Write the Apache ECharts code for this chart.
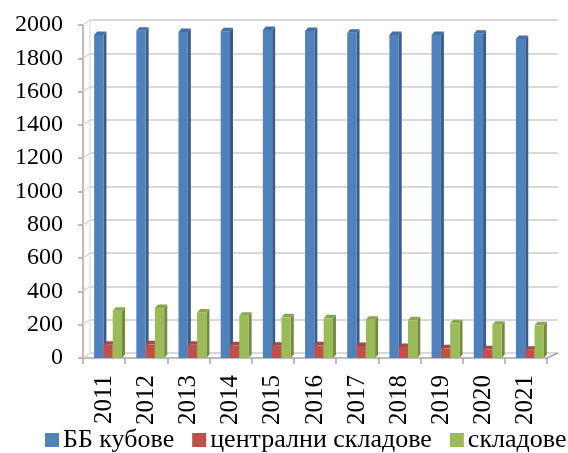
<!DOCTYPE html>
<html>
<head>
<meta charset="utf-8">
<script src="https://cdn.jsdelivr.net/npm/echarts@6/dist/echarts.min.js"></script>
<style>
  html, body { margin: 0; padding: 0; background: #fff; }
  #chart { width: 568px; height: 453px; }
</style>
</head>
<body>
<div id="chart"></div>
<script>
// Years on the category axis
const years = ['2011', '2012', '2013', '2014', '2015', '2016', '2017', '2018', '2019', '2020', '2021'];

// Series values per year
const bbCubes = [1940, 1966, 1958, 1962, 1970, 1964, 1954, 1940, 1940, 1948, 1916];
const centralStores = [80, 82, 79, 76, 74, 76, 72, 66, 58, 52, 50];
const stores = [284, 300, 274, 254, 244, 238, 230, 226, 208, 200, 196];

// Value axis ticks
const valueTicks = [0, 200, 400, 600, 800, 1000, 1200, 1400, 1600, 1800, 2000];

const seriesNames = ['ББ кубове', 'централни складове', 'складове'];
const seriesValues = [bbCubes, centralStores, stores];
const faceColors = [
  { front: '#4F81BD', side: '#385D8A', top: '#426FA6' },
  { front: '#C0504D', side: '#8C3A38', top: '#A94744' },
  { front: '#9BBB59', side: '#718A3F', top: '#89A84E' }
];

const FONT = 'Liberation Serif, Times New Roman, serif';
const BAR_W = 9.3;   // width of one bar front face
const DX = 3;        // depth offset to the right
const DY = 3.5;      // depth offset upward
const SHIFT = 4;     // group offset inside a category (perspective)

// Prism-like bar: front face, right side face and top face
function barRenderer(k) {
  return function (params, api) {
    const i = api.value(0);
    const v = api.value(1);
    const topPt = api.coord([i, v]);
    const basePt = api.coord([i, 0]);
    const left = topPt[0] + SHIFT - 1.5 * BAR_W + k * BAR_W;
    const right = left + BAR_W;
    const top = topPt[1];
    const base = basePt[1];
    const c = faceColors[k];
    return {
      type: 'group',
      children: [
        {
          type: 'polygon',
          shape: { points: [[right, top], [right + DX, top - DY], [right + DX, base - DY], [right, base]] },
          style: { fill: c.side }
        },
        {
          type: 'polygon',
          shape: { points: [[left, top], [left + DX, top - DY], [right + DX, top - DY], [right, top]] },
          style: { fill: c.top }
        },
        {
          type: 'rect',
          shape: { x: left, y: top, width: BAR_W, height: base - top },
          style: { fill: c.front }
        }
      ]
    };
  };
}

// Side wall lines from the front axis to the back wall, plus the floor's right edge
function wallRenderer(params, api) {
  const v = api.value(0);
  const y = api.coord([0, v])[1];
  const cs = params.coordSys;
  const children = [{
    type: 'line',
    shape: { x1: cs.x, y1: y, x2: cs.x + 7, y2: y - 5 },
    style: { stroke: '#d9d9d9', lineWidth: 1.5 }
  }];
  if (v === 0) {
    children.push({
      type: 'line',
      shape: { x1: cs.x + cs.width, y1: y, x2: cs.x + cs.width + 11, y2: y - 5 },
      style: { stroke: '#a6a6a6', lineWidth: 1.5 }
    });
  }
  return { type: 'group', children: children };
}

const chart = echarts.init(document.getElementById('chart'), null, { renderer: 'canvas' });

const barSeries = seriesNames.map(function (name, k) {
  return {
    name: name,
    type: 'custom',
    xAxisIndex: 0,
    yAxisIndex: 0,
    z: 5,
    itemStyle: { color: faceColors[k].front },
    renderItem: barRenderer(k),
    encode: { x: 0, y: 1 },
    data: seriesValues[k].map(function (val, i) { return [i, val]; })
  };
});

chart.setOption({
  animation: false,
  backgroundColor: '#fff',
  textStyle: { fontFamily: FONT },
  grid: [
    { left: 83, right: 21, top: 25, bottom: 95 },   // front plane: axes and bars
    { left: 90, right: 10, top: 20, bottom: 100 }   // back wall: gridlines
  ],
  legend: {
    data: seriesNames.map(function (n) { return { name: n, icon: 'rect' }; }),
    left: 45,
    top: 427,
    padding: 0,
    itemWidth: 14,
    itemHeight: 14,
    itemGap: 18,
    textStyle: { fontFamily: FONT, fontSize: 26, color: '#000', padding: [0, 0, 0, -1] }
  },
  xAxis: [
    {
      type: 'category',
      gridIndex: 0,
      data: years,
      boundaryGap: true,
      axisLine: { show: true, lineStyle: { color: '#a6a6a6', width: 1.5 } },
      axisTick: { show: true, length: 6, alignWithLabel: false, lineStyle: { color: '#a6a6a6', width: 1.5 } },
      axisLabel: { interval: 0, rotate: 90, margin: 17, fontFamily: FONT, fontSize: 25, color: '#000' },
      splitLine: { show: false }
    },
    {
      type: 'category',
      gridIndex: 1,
      data: years,
      show: false
    }
  ],
  yAxis: [
    {
      type: 'value',
      gridIndex: 0,
      min: 0,
      max: 2000,
      interval: 200,
      axisLine: { show: true, lineStyle: { color: '#a6a6a6', width: 1.5 } },
      axisTick: { show: true, length: 5, lineStyle: { color: '#a6a6a6', width: 1.5 } },
      axisLabel: {
        margin: 20, fontFamily: FONT, fontSize: 24, color: '#000',
        formatter: function (v) { return String(v); }
      },
      splitLine: { show: false }
    },
    {
      type: 'value',
      gridIndex: 1,
      min: 0,
      max: 2000,
      interval: 200,
      axisLine: { show: true, lineStyle: { color: '#e3e3e3', width: 1.5 } },
      axisTick: { show: false },
      axisLabel: { show: false },
      splitLine: { show: true, lineStyle: { color: '#d9d9d9', width: 2 } }
    }
  ],
  series: [
    {
      name: 'wall',
      type: 'custom',
      xAxisIndex: 0,
      yAxisIndex: 0,
      z: 1,
      silent: true,
      renderItem: wallRenderer,
      encode: { y: 0 },
      data: valueTicks.map(function (t) { return [t]; })
    }
  ].concat(barSeries)
});
</script>
</body>
</html>
